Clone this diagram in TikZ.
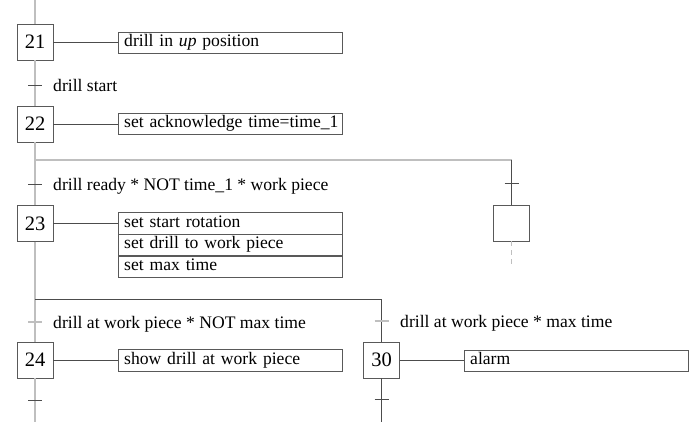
\documentclass[tikz,border=0pt]{standalone}
\usepackage{fontspec}
\setmainfont{Liberation Serif}
\usepackage{xcolor}
\usetikzlibrary{positioning}

\tikzset{
    stepnode/.style={draw=black!65, fill=white, minimum size=36pt, inner sep=0pt,
        font=\fontsize{20.5}{22}\selectfont},
    actnode/.style={draw=black!65, fill=white, anchor=west, minimum height=21.5pt,
        inner xsep=6pt, inner ysep=0pt, text width=212pt, align=left,
        text height=12pt, text depth=4pt, font=\fontsize{17.6}{20}\selectfont},
    cond/.style={anchor=west, inner sep=0pt, text height=12pt, text depth=4pt,
        font=\fontsize{17.6}{20}\selectfont},
    flow/.style={draw=black!25, line width=1.8pt},
    link/.style={draw=black!70, line width=0.8pt},
    faint/.style={draw=black!25, line width=1.2pt}
}

\begin{document}
\begin{tikzpicture}[x=1pt,y=-1pt]
    \useasboundingbox (0,0) rectangle (700,424);

    % Steps
    \node[stepnode] (s21) at (35,42) {21};
    \node[stepnode] (s22) at (35,124) {22};
    \node[stepnode] (s23) at (35,223.5) {23};
    \node[stepnode] (s24) at (35,360) {24};
    \node[stepnode] (s30) at (381.5,360) {30};
    \node[stepnode] (sx) at (511.5,223) {};

    % Branch points and transitions
    \coordinate (top) at (35,0);
    \coordinate (bot) at (35,422);
    \coordinate (b1l) at (35,160);
    \coordinate (b1r) at (511.5,160);
    \coordinate (sxend) at (511.5,264);
    \coordinate (b2l) at (35,299);
    \coordinate (b2r) at (381.5,299);
    \coordinate (bot30) at (381.5,422);
    \coordinate (t1) at (35,85);
    \coordinate (t2) at (35,184);
    \coordinate (tx) at (511.5,183);
    \coordinate (t3) at (35,322);
    \coordinate (t6) at (381.5,321);
    \coordinate (t4) at (35,400);
    \coordinate (t5) at (381.5,399);

    % Flow lines
    \draw[flow] (top) -- (s21) -- (s22) -- (s23) -- (s24) -- (bot);
    \draw[flow] (b1l) -- (b1r);
    \draw[link] (b1r) -- (sx);
    \draw[faint, line width=0.7pt, dash pattern=on 5pt off 4pt] (sx) -- (sxend);
    \draw[link] (b2l) -- (b2r) -- (s30);
    \draw[link] (s30) -- (bot30);

    % Transition ticks
    \foreach \t in {t1,t2,tx,t4,t5} {
        \draw[link] ([xshift=-7pt]\t) -- ([xshift=7pt]\t);
    }
    \foreach \t in {t3,t6} {
        \draw[faint] ([xshift=-7pt]\t) -- ([xshift=7pt]\t);
    }

    % Conditions
    \node[cond] (c1) at (53,87) {drill start};
    \node[cond] (c2) at (53,186) {drill ready * NOT time\_1 * work piece};
    \node[cond] (c3) at (53,324) {drill at work piece * NOT max time};
    \node[cond] (c4) at (400,323) {drill at work piece * max time};

    % Actions
    \node[actnode] (a21) at (118,42.5) {drill in \textit{up} position};
    \node[actnode] (a22) at (118,123.5) {\mbox{set acknowledge time=time\_1}};
    \node[actnode] (a23a) at (118,223) {set start rotation};
    \node[actnode, below=0pt of a23a] (a23b) {set drill to work piece};
    \node[actnode, below=0pt of a23b] (a23c) {set max time};
    \node[actnode] (a24) at (118,360) {show drill at work piece};
    \node[actnode] (a30) at (464,360.5) {alarm};

    \foreach \s/\a in {s21/a21, s22/a22, s23/a23a, s24/a24, s30/a30} {
        \draw[link] (\s.east) -- (\s.east -| \a.west);
    }
\end{tikzpicture}
\end{document}
